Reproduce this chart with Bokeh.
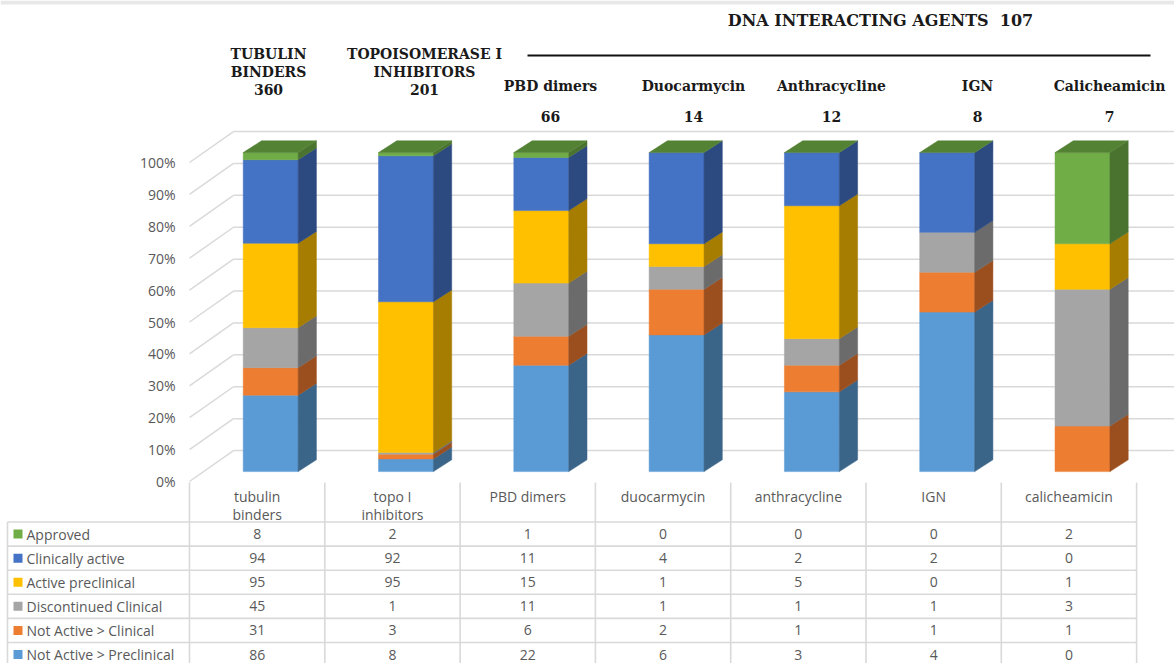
from bokeh.plotting import figure
from bokeh.models import Range1d
from bokeh.core.properties import value
from bokeh.embed import file_html
from bokeh.resources import INLINE

# ---------------- data ----------------
categories = ["tubulin binders", "topo I inhibitors", "PBD dimers", "duocarmycin",
              "anthracycline", "IGN", "calicheamicin"]
table_headers = ["tubulin\nbinders", "topo I\ninhibitors", "PBD dimers", "duocarmycin",
                 "anthracycline", "IGN", "calicheamicin"]
series = ["Approved", "Clinically active", "Active preclinical",
          "Discontinued Clinical", "Not Active > Clinical", "Not Active > Preclinical"]
approved = [8, 2, 1, 0, 0, 0, 2]
clinically_active = [94, 92, 11, 4, 2, 2, 0]
active_preclinical = [95, 95, 15, 1, 5, 0, 1]
discontinued_clinical = [45, 1, 11, 1, 1, 1, 3]
not_active_clinical = [31, 3, 6, 2, 1, 1, 1]
not_active_preclinical = [86, 8, 22, 6, 3, 4, 0]
tick_values = [0.0, 0.1, 0.2, 0.3, 0.4, 0.5, 0.6, 0.7, 0.8, 0.9, 1.0]
tick_labels = ["0%", "10%", "20%", "30%", "40%", "50%", "60%", "70%", "80%", "90%", "100%"]
group_lines = [["TUBULIN", "BINDERS", "360"], ["TOPOISOMERASE I", "INHIBITORS", "201"]]
dna_title = "DNA INTERACTING AGENTS\u00a0 107"
dna_names = ["PBD dimers", "Duocarmycin", "Anthracycline", "IGN", "Calicheamicin"]
dna_totals = ["66", "14", "12", "8", "7"]

values_by_series = {
    "Approved": approved,
    "Clinically active": clinically_active,
    "Active preclinical": active_preclinical,
    "Discontinued Clinical": discontinued_clinical,
    "Not Active > Clinical": not_active_clinical,
    "Not Active > Preclinical": not_active_preclinical,
}
front_colors = {
    "Approved": "#70AD47", "Clinically active": "#4472C4", "Active preclinical": "#FFC000",
    "Discontinued Clinical": "#A5A5A5", "Not Active > Clinical": "#ED7D31",
    "Not Active > Preclinical": "#5B9BD5",
}
side_colors = {
    "Approved": "#4A7330", "Clinically active": "#2C4A80", "Active preclinical": "#A67D00",
    "Discontinued Clinical": "#6B6B6B", "Not Active > Clinical": "#9C4F1E",
    "Not Active > Preclinical": "#3B6489",
}
top_color = "#548235"

# ---------------- layout constants ----------------
W, H = 1174, 663
COL_W = 135.3       # px per category
X0 = 189.0          # px of left wall front edge
Y0, YS = 481.0, 319.0
BAR_OFF, BAR_HW = 0.10, 0.203
BAR_DY0 = 0.031
DEP_X, DEP_Y = 0.135, 0.037
WALL_X, WALL_Y = 0.325, 0.097
TROW_TOP, TROW_H = 521.5, 24.1

def px_x(px):
    return (px - X0) / COL_W - 0.5

p = figure(width=W, height=H, output_backend="svg", toolbar_location=None,
           x_range=Range1d(px_x(0), px_x(W)),
           y_range=Range1d((Y0 - H) / YS, Y0 / YS),
           x_axis_location=None, y_axis_location=None,
           min_border=0, outline_line_color=None,
           background_fill_color="white", border_fill_color="white")
p.grid.visible = False
p.extra_x_ranges = {"px": Range1d(0, W)}
p.extra_y_ranges = {"px": Range1d(H, 0),
                    "tbl": Range1d((TROW_TOP - H) / TROW_H, TROW_TOP / TROW_H)}

GRID = "#d9d9d9"
# top band
p.quad(left=[0], right=[W], bottom=[4], top=[0], x_range_name="px", y_range_name="px",
       fill_color="#e8e8e8", line_color=None)

# ---------------- walls / gridlines ----------------
wall_l = -0.5
p.segment(x0=[wall_l] * len(tick_values), y0=tick_values,
          x1=[wall_l + WALL_X] * len(tick_values), y1=[v + WALL_Y for v in tick_values],
          line_color=GRID, line_width=1.5)
p.segment(x0=[wall_l + WALL_X] * len(tick_values), y0=[v + WALL_Y for v in tick_values],
          x1=[px_x(W + 5)] * len(tick_values), y1=[v + WALL_Y for v in tick_values],
          line_color=GRID, line_width=1.5)
p.text(x=[px_x(175)] * len(tick_values), y=tick_values, text=tick_labels,
       text_align="right", text_baseline="middle", text_color="#595959",
       text_font=value("Open Sans"), text_font_size="14px")

# ---------------- 3D stacked bars ----------------
stack_order = list(reversed(series))  # bottom -> top
n = len(categories)
totals = [sum(values_by_series[s][i] for s in series) for i in range(n)]
for i in range(n):
    l = i + BAR_OFF - BAR_HW
    r = i + BAR_OFF + BAR_HW
    cum = 0.0
    for s in stack_order:
        frac = values_by_series[s][i] / totals[i]
        if frac <= 0:
            continue
        b = BAR_DY0 + cum
        t = BAR_DY0 + cum + frac
        cum += frac
        p.quad(left=[l], right=[r], bottom=[b], top=[t],
               fill_color=front_colors[s], line_color=front_colors[s], line_width=0.5)
        p.patch(x=[r, r + DEP_X, r + DEP_X, r], y=[b, b + DEP_Y, t + DEP_Y, t],
                fill_color=side_colors[s], line_color=side_colors[s], line_width=0.5)
    T = BAR_DY0 + 1.0
    p.patch(x=[l, l + DEP_X, r + DEP_X, r], y=[T, T + DEP_Y, T + DEP_Y, T],
            fill_color=top_color, line_color=top_color, line_width=0.5)

# ---------------- data table ----------------
t_left = px_x(7)
t_right = n - 0.5
hdr_top = (TROW_TOP - 482) / TROW_H
bottom_t = -6.2
nrows = len(series)
p.segment(x0=[t_left] * (nrows + 1), y0=[-k for k in range(nrows + 1)],
          x1=[t_right] * (nrows + 1), y1=[-k for k in range(nrows + 1)],
          y_range_name="tbl", line_color=GRID, line_width=1.6)
vx = [j - 0.5 for j in range(n + 1)]
p.segment(x0=vx, y0=[hdr_top] * len(vx), x1=vx, y1=[bottom_t] * len(vx),
          y_range_name="tbl", line_color=GRID, line_width=1.6)
p.segment(x0=[t_left], y0=[0], x1=[t_left], y1=[bottom_t],
          y_range_name="tbl", line_color=GRID, line_width=1.6)

l1 = [h.split("\n")[0] for h in table_headers]
l2 = [h.split("\n")[1] if "\n" in h else "" for h in table_headers]
y1 = (TROW_TOP - 496) / TROW_H
y2 = (TROW_TOP - 514) / TROW_H
p.text(x=list(range(n)), y=[y1] * n, text=l1, y_range_name="tbl",
       text_align="center", text_baseline="middle", text_color="#595959",
       text_font=value("Open Sans"), text_font_size="14px")
p.text(x=list(range(n)), y=[y2] * n, text=l2, y_range_name="tbl",
       text_align="center", text_baseline="middle", text_color="#595959",
       text_font=value("Open Sans"), text_font_size="14px")

vx_list, vy_list, vt_list = [], [], []
for k, s in enumerate(series):
    for i in range(n):
        vx_list.append(i)
        vy_list.append(-(k + 0.5))
        vt_list.append(str(values_by_series[s][i]))
p.text(x=vx_list, y=vy_list, text=vt_list, y_range_name="tbl",
       text_align="center", text_baseline="middle", text_color="#595959",
       text_font=value("Open Sans"), text_font_size="14px")
row_y = [-(k + 0.5) for k in range(nrows)]
p.scatter(x=[px_x(17.5)] * nrows, y=row_y, y_range_name="tbl", marker="square", size=9,
          fill_color=[front_colors[s] for s in series], line_color=None)
p.text(x=[px_x(26)] * nrows, y=row_y, text=series, y_range_name="tbl",
       text_align="left", text_baseline="middle", text_color="#595959",
       text_font=value("Open Sans"), text_font_size="14px")

# ---------------- group titles ----------------
TFONT = value("DejaVu Serif")
TCOL = "#1a1a1a"
TSIZE = "14px"
gx = [268, 424]
for g, lines in enumerate(group_lines):
    p.text(x=[gx[g]] * 3, y=[53, 71, 89], text=lines, x_range_name="px", y_range_name="px",
           text_align="center", text_baseline="middle", text_color=TCOL,
           text_font=TFONT, text_font_style="bold", text_font_size=TSIZE)
p.text(x=[880], y=[20], text=[dna_title], x_range_name="px", y_range_name="px",
       text_align="center", text_baseline="middle", text_color=TCOL,
       text_font=TFONT, text_font_style="bold", text_font_size="16px")
p.segment(x0=[527], y0=[55], x1=[1150], y1=[55], x_range_name="px", y_range_name="px",
          line_color="#111111", line_width=2)
dx_names = [550, 693, 831, 977, 1109]
p.text(x=dx_names, y=[85] * len(dna_names), text=dna_names, x_range_name="px", y_range_name="px",
       text_align="center", text_baseline="middle", text_color=TCOL,
       text_font=TFONT, text_font_style="bold", text_font_size=TSIZE)
p.text(x=dx_names, y=[116] * len(dna_totals), text=dna_totals, x_range_name="px", y_range_name="px",
       text_align="center", text_baseline="middle", text_color=TCOL,
       text_font=TFONT, text_font_style="bold", text_font_size=TSIZE)

open("out.html", "w").write(file_html(p, INLINE))
